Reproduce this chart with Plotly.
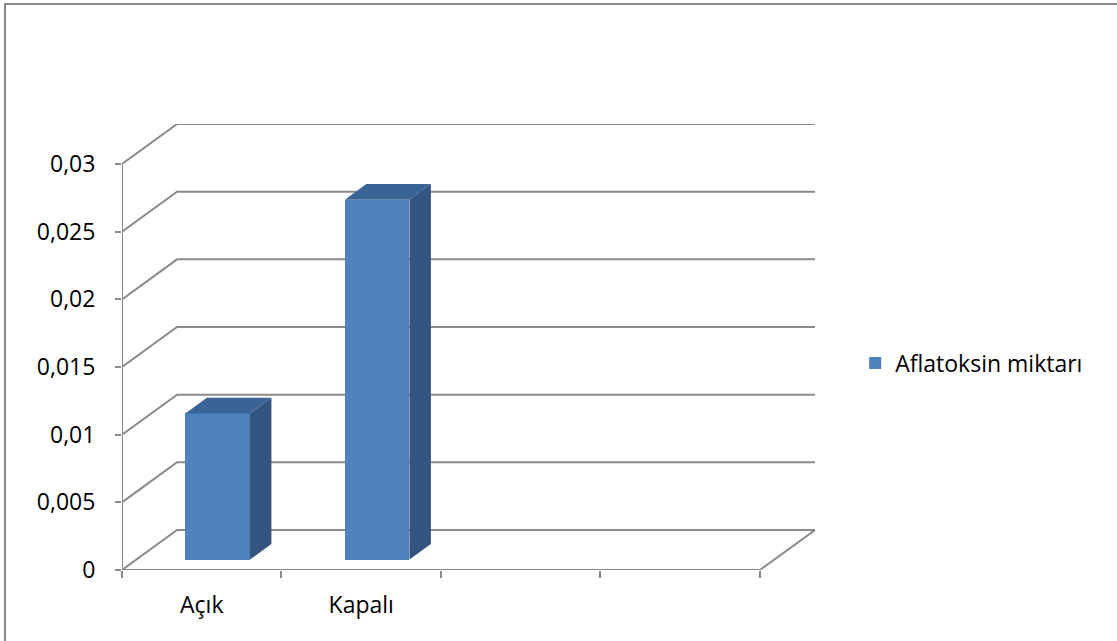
import plotly.graph_objects as go

# ---- data ----
categories = ["Açık", "Kapalı"]
n_slots = 4  # category slots on the axis (two empty)
values = [0.0108, 0.0266]
series_name = "Aflatoksin miktarı"
y_ticks = [0, 0.005, 0.01, 0.015, 0.02, 0.025, 0.03]
y_tick_labels = ["0", "0,005", "0,01", "0,015", "0,02", "0,025", "0,03"]

# ---- style / 3D projection constants ----
DX = 0.345      # depth offset in x data units
DY = 0.00296    # depth offset in y data units
F0 = 0.26       # bar front depth fraction
FD = 0.39       # bar depth fraction
BW = 0.405      # bar width
GRID = "#8a8a8a"
FRONT = "#4F81BD"
TOP = "#3B6496"
SIDE = "#32547F"
FONT = "Open Sans"
FS = 23

xs = list(range(len(categories)))
x_lo, x_hi = -0.5, n_slots - 0.5
y_max = max(y_ticks)

fig = go.Figure()
fig.add_trace(go.Bar(
    x=xs, y=values, base=[F0 * DY] * len(xs),
    width=BW, offset=F0 * DX - BW / 2 + 0.01,
    marker=dict(color=FRONT, line=dict(width=0)),
    name=series_name, showlegend=True,
))

shapes = []
# back-wall gridlines with left-wall diagonals
for v in y_ticks:
    shapes.append(dict(type="path", xref="x", yref="y", layer="below",
                       path=f"M {x_lo},{v} L {x_lo+DX},{v+DY} L {x_hi+DX},{v+DY}",
                       line=dict(color=GRID, width=2)))
# floor front edge and right diagonal
shapes.append(dict(type="path", xref="x", yref="y", layer="below",
                   path=f"M {x_lo},0 L {x_hi},0 L {x_hi+DX},{DY}",
                   line=dict(color=GRID, width=2)))
# front vertical axis line
shapes.append(dict(type="line", xref="x", yref="y", layer="below",
                   x0=x_lo, x1=x_lo, y0=0, y1=y_max,
                   line=dict(color=GRID, width=2)))
# 3D top and side faces of bars
for x, v in zip(xs, values):
    b = F0 * DY
    x0 = x + F0 * DX - BW / 2 + 0.01
    x1 = x0 + BW
    ddx, ddy = FD * DX, FD * DY
    top = v + b
    shapes.append(dict(type="path", xref="x", yref="y", layer="above",
                       path=f"M {x0},{top} L {x1},{top} L {x1+ddx},{top+ddy} L {x0+ddx},{top+ddy} Z",
                       fillcolor=TOP, line=dict(width=0)))
    shapes.append(dict(type="path", xref="x", yref="y", layer="above",
                       path=f"M {x1},{b} L {x1},{top} L {x1+ddx},{top+ddy} L {x1+ddx},{b+ddy} Z",
                       fillcolor=SIDE, line=dict(width=0)))
# outer chart border (left and top edges visible)
shapes.append(dict(type="rect", xref="paper", yref="paper",
                   x0=-0.1688, x1=3.0, y0=-1.0, y1=1.269,
                   line=dict(color="#8a8a8a", width=2), layer="below"))

fig.update_layout(
    width=1117, height=641,
    margin=dict(l=122, r=302, t=124, b=71),
    paper_bgcolor="white", plot_bgcolor="white",
    font=dict(family=FONT, size=FS, color="#000000"),
    shapes=shapes,
    bargap=0,
    xaxis=dict(range=[x_lo, x_hi + DX], showgrid=False, zeroline=False, showline=False,
               tickvals=xs, ticktext=categories, ticks="",
               ticklabelstandoff=19,
               minor=dict(tickvals=[x_lo + i for i in range(n_slots + 1)], ticks="outside",
                          ticklen=7, tickcolor=GRID, tickwidth=2, showgrid=False),
               fixedrange=True),
    yaxis=dict(range=[0, y_max + DY], showgrid=False, zeroline=False, showline=False,
               tickvals=y_ticks, ticktext=y_tick_labels, ticks="outside",
               ticklen=6, tickcolor=GRID, tickwidth=2, ticklabelstandoff=15,
               fixedrange=True),
    legend=dict(x=1.058, y=0.464, xanchor="left", yanchor="middle",
                font=dict(family=FONT, size=FS, color="#000000"),
                bgcolor="rgba(0,0,0,0)"),
)

fig.write_html("out.html")
